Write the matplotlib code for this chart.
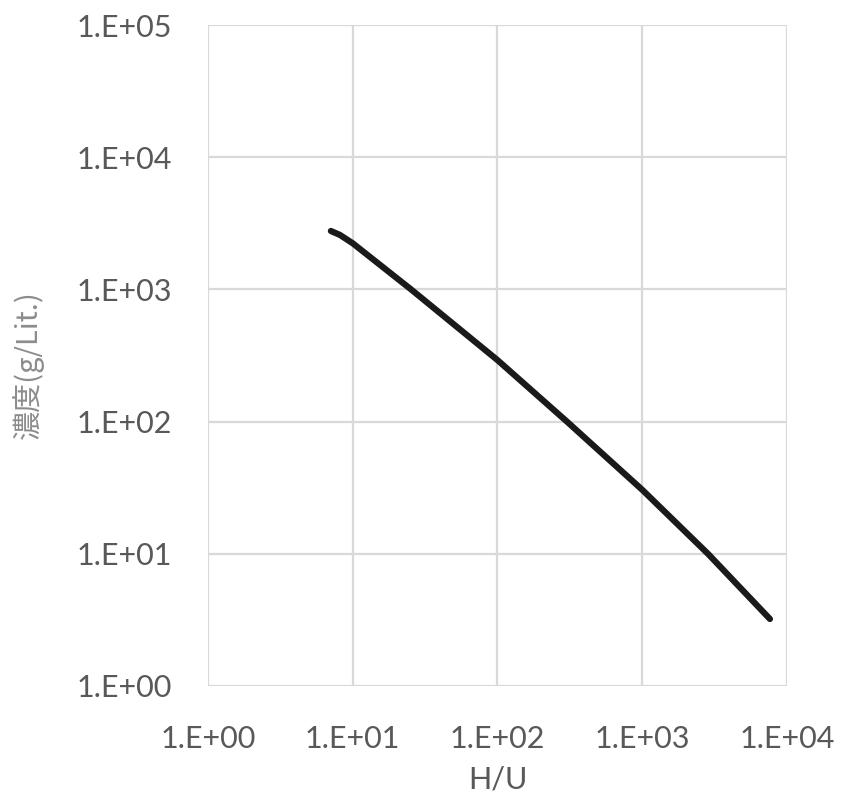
import matplotlib
matplotlib.use("Agg")
import matplotlib.pyplot as plt
from matplotlib.ticker import FixedLocator, FixedFormatter, NullLocator

# values (log-log)
hu = [7.07, 8.16, 10.0, 25.3, 100.0, 302.0, 1000.0, 2846.0, 7630.0]
conc = [2766, 2582, 2233, 1000, 292, 100, 30.5, 10.0, 3.21]

x_ticks = [1, 10, 100, 1000, 10000]
x_labels = ["1.E+00", "1.E+01", "1.E+02", "1.E+03", "1.E+04"]
y_ticks = [1, 10, 100, 1000, 10000, 100000]
y_labels = ["1.E+00", "1.E+01", "1.E+02", "1.E+03", "1.E+04", "1.E+05"]

fig = plt.figure(figsize=(8.44, 8.07), dpi=100)
ax = fig.add_axes([0.2464, 0.150, 0.686, 0.819])

ax.plot(hu, conc, color="#1a1a1a", lw=4.5, solid_capstyle="round",
        solid_joinstyle="round")

ax.set_xscale("log")
ax.set_yscale("log")
ax.set_xlim(1, 10000)
ax.set_ylim(1, 100000)

ax.xaxis.set_major_locator(FixedLocator(x_ticks))
ax.xaxis.set_major_formatter(FixedFormatter(x_labels))
ax.yaxis.set_major_locator(FixedLocator(y_ticks))
ax.yaxis.set_major_formatter(FixedFormatter(y_labels))
ax.xaxis.set_minor_locator(NullLocator())
ax.yaxis.set_minor_locator(NullLocator())

ax.grid(True, color="#d9d9d9", lw=1.6)
ax.set_axisbelow(True)
for s in ax.spines.values():
    s.set_visible(False)
ax.tick_params(length=0, labelsize=22, labelcolor="#595959")
ax.tick_params(axis="x", pad=28)
ax.tick_params(axis="y", pad=26)
for lab in ax.get_xticklabels() + ax.get_yticklabels():
    lab.set_family("Lato")

ax.set_xlabel("H/U", fontsize=22, color="#595959", family="Lato")
ax.set_ylabel("濃度(g/Lit.)", fontsize=21, color="#8c8c8c",
              family=["Noto Sans CJK JP", "DejaVu Sans"])
ax.xaxis.set_label_coords(0.5, -0.12)
ax.yaxis.set_label_coords(-0.283, 0.486)

fig.savefig("out.png", dpi=100)
